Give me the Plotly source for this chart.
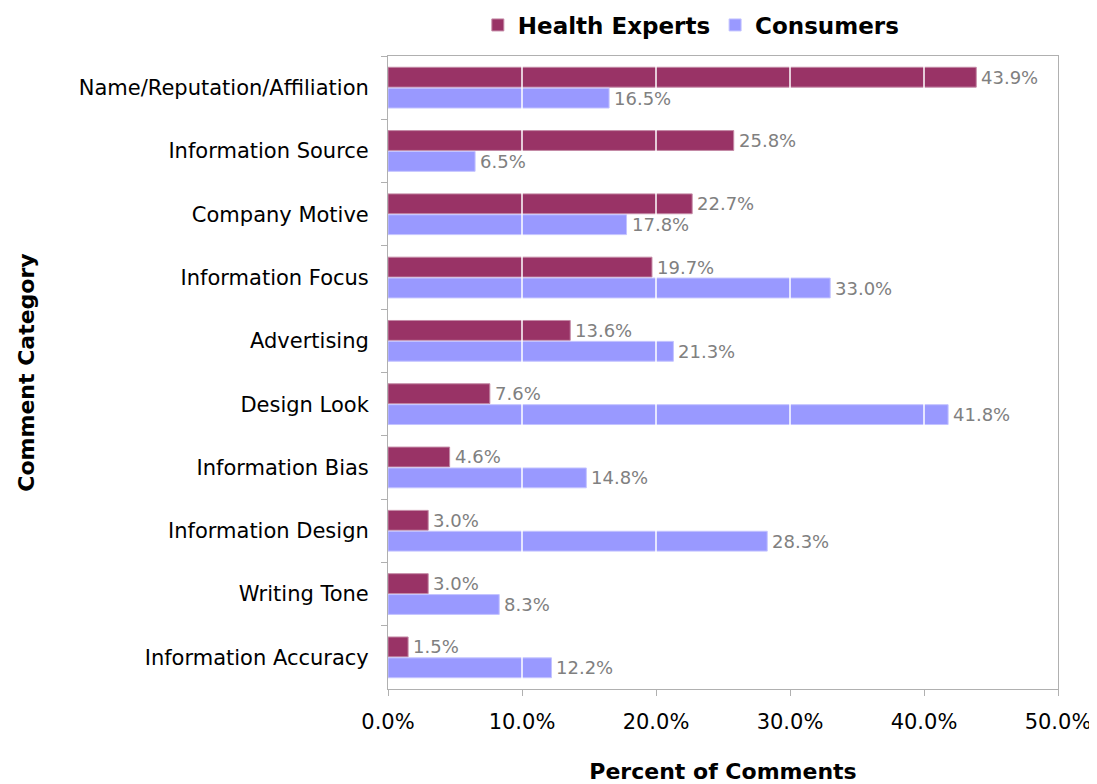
import plotly.graph_objects as go

categories = ["Name/Reputation/Affiliation", "Information Source", "Company Motive",
              "Information Focus", "Advertising", "Design Look", "Information Bias",
              "Information Design", "Writing Tone", "Information Accuracy"]
health_experts = [43.9, 25.8, 22.7, 19.7, 13.6, 7.6, 4.6, 3.0, 3.0, 1.5]
consumers = [16.5, 6.5, 17.8, 33.0, 21.3, 41.8, 14.8, 28.3, 8.3, 12.2]
x_ticks = [0, 10, 20, 30, 40, 50]
x_tick_labels = ["0.0%", "10.0%", "20.0%", "30.0%", "40.0%", "50.0%"]

FONT = "DejaVu Sans"

fig = go.Figure()
fig.add_trace(go.Bar(
    y=categories, x=health_experts, orientation="h", name="Health Experts",
    marker=dict(color="#993366", line=dict(color="#c48aa6", width=1)),
))
fig.add_trace(go.Bar(
    y=categories, x=consumers, orientation="h", name="Consumers",
    marker=dict(color="#9999FF", line=dict(color="#c4c4ff", width=1)),
))

# white grid lines drawn over the bars
for t in x_ticks[1:-1]:
    fig.add_shape(type="line", xref="x", yref="paper", x0=t, x1=t, y0=0, y1=1,
                  line=dict(color="white", width=1.5), layer="above")

# value labels (annotations so they sit above the white grid lines)
for series, shift in ((health_experts, 10.5), (consumers, -10.5)):
    for cat, v in zip(categories, series):
        fig.add_annotation(x=v, y=cat, xref="x", yref="y", text=f"{v:.1f}%",
                           showarrow=False, xanchor="left", yanchor="middle",
                           xshift=3, yshift=shift,
                           font=dict(family=FONT, size=18, color="#808080"))

fig.update_layout(
    width=1097, height=784,
    margin=dict(l=380, r=47, t=48, b=103, autoexpand=False),
    paper_bgcolor="white", plot_bgcolor="white",
    barmode="group", bargap=0.34, bargroupgap=0.05,
    font=dict(family=FONT, size=18, color="#000000"),
    legend=dict(orientation="h", x=0.452, xanchor="center", y=1.049, yanchor="middle",
                font=dict(family=FONT, size=23, weight="bold"),
                traceorder="normal", bgcolor="rgba(0,0,0,0)"),
    showlegend=True,
)
fig.update_xaxes(
    range=[0, 50], tickvals=x_ticks, ticktext=x_tick_labels,
    showgrid=False, zeroline=False,
    showline=True, linecolor="#b0b0b0", linewidth=1, mirror=True,
    ticks="outside", ticklen=6, tickcolor="#b0b0b0", ticklabelstandoff=8,
    tickfont=dict(family=FONT, size=21, color="#000000"),
    title=dict(text="Percent of Comments", font=dict(family=FONT, size=22, weight="bold"), standoff=30),
)
fig.update_yaxes(
    autorange="reversed", showgrid=False,
    showline=True, linecolor="#b0b0b0", linewidth=1, mirror=True,
    ticks="outside", ticklen=6, tickcolor="#b0b0b0", tickson="boundaries",
    ticklabelstandoff=14,
    tickfont=dict(family=FONT, size=21, color="#000000"),
    title=dict(text="Comment Category", font=dict(family=FONT, size=22, weight="bold"), standoff=38),
)

fig.write_html("out.html")
